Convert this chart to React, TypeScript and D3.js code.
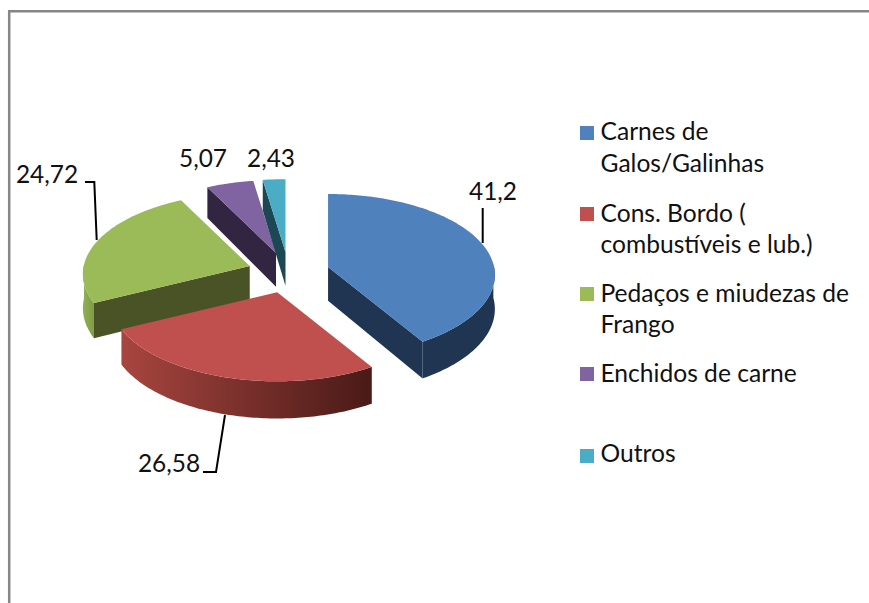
import React from "react";
import * as d3 from "d3";

const categories = ["Carnes de Galos/Galinhas", "Cons. Bordo ( combustíveis e lub.)", "Pedaços e miudezas de Frango", "Enchidos de carne", "Outros"];
const values = [41.2, 26.58, 24.72, 5.07, 2.43];
const valueLabels = ["41,2", "26,58", "24,72", "5,07", "2,43"];
const legendLines = [["Carnes de", "Galos/Galinhas"], ["Cons. Bordo (", "combustíveis e lub.)"], ["Pedaços e miudezas de", "Frango"], ["Enchidos de carne"], ["Outros"]];
const topColors = ["#4F81BD", "#C0504D", "#9BBB59", "#8064A2", "#4BACC6"];
const faceColors = ["#1F3552", "#4A1B18", "#4A5325", "#322541", "#1C4853"];
const wallStops = [["#1F3552", "#1F3552"], ["#A8453F", "#491A17"], ["#8FAE52", "#7F9B48"], ["#322541", "#322541"], ["#1C4853", "#1C4853"]];

const W = 869, H = 603;
const cx = 288.6, cy = 272.5, rx = 166, ry = 81, persp = 0.1, explode = 41, squash = 0.5, depth = 33.8;
const FONT = "Lato, Carlito, Calibri, sans-serif";

const pie = d3.pie<number>().sort(null).value((d) => d)(values);
const deg = d3.scaleLinear().domain([0, 360]).range([0, Math.PI * 2]);
const line = d3.line();

const legendY = [[140, 172], [222, 253], [302, 333], [382], [462]];
const swatchY = [126, 207, 287, 367, 449];
const labelPos = [[493, 200], [169, 472], [47, 183], [203, 167], [271, 167]];
const leaders = [
  [[482.7, 243], [482.7, 208]],
  [[225, 415], [216, 472], [203, 472]],
  [[96.7, 240], [94.3, 182], [85, 182]],
];

function App() {
  const slices = pie.map((p, i) => {
    const mid = (p.startAngle + p.endAngle) / 2;
    const ox = cx + explode * Math.sin(mid);
    const oy = cy - explode * squash * Math.cos(mid);
    const pt = (a: number, r: number, dropped: boolean): [number, number] => {
      const Y = -Math.cos(a) * r;
      const X = Math.sin(a) * r;
      const s = 1 + persp * Y;
      return [ox + X * rx * s, oy + Y * ry * s + (dropped ? depth * s : 0)];
    };
    const steps = d3.range(p.startAngle, p.endAngle, deg(1)).concat([p.endAngle]);
    const top = [pt(0, 0, false), ...steps.map((a) => pt(a, 1, false))];
    const wa = steps.filter((a) => a >= deg(88) && a <= deg(272));
    const wall = wa.length > 1 ? [...wa.map((a) => pt(a, 1, false)), ...wa.slice().reverse().map((a) => pt(a, 1, true))] : null;
    const faces: [number, number][][] = [];
    [[p.startAngle, -1], [p.endAngle, 1]].forEach(([a, sign]) => {
      if (Math.sin(a) * sign > 0.02) faces.push([pt(0, 0, false), pt(a, 1, false), pt(a, 1, true), pt(0, 0, true)]);
    });
    return { i, top, wall, faces, wx: wa.length > 1 ? [pt(wa[0], 1, false)[0], pt(wa[wa.length - 1], 1, false)[0]] : [0, 0] };
  });
  const order = [3, 4, 0, 2, 1];
  return (
    <svg width={W} height={H} style={{ position: "fixed", left: 0, top: 0 }} fontFamily={FONT}>
      <defs>
        {slices.map((s) => (
          <linearGradient key={s.i} id={`wall${s.i}`} gradientUnits="userSpaceOnUse" x1={Math.min(...s.wx)} x2={Math.max(...s.wx)} y1={0} y2={0}>
            <stop offset="0" stopColor={wallStops[s.i][0]} />
            <stop offset="1" stopColor={wallStops[s.i][1]} />
          </linearGradient>
        ))}
      </defs>
      <rect width={W} height={H} fill="#fff" />
      <path d={`M9.2 ${H}V11.2H${W}`} fill="none" stroke="#868686" strokeWidth={2.5} />
      {order.map((k) => {
        const s = slices[k];
        return (
          <g key={k}>
            {s.faces.map((f, j) => (
              <path key={j} d={line(f) + "Z"} fill={faceColors[k]} />
            ))}
            {s.wall && <path d={line(s.wall) + "Z"} fill={`url(#wall${k})`} />}
            <path d={line(s.top) + "Z"} fill={topColors[k]} />
          </g>
        );
      })}
      {leaders.map((l, i) => (
        <path key={i} d={line(l as [number, number][]) as string} fill="none" stroke="#000" strokeWidth={2} />
      ))}
      {valueLabels.map((t, i) => (
        <text key={t} x={labelPos[i][0]} y={labelPos[i][1]} textAnchor="middle" fontSize={24.4} fill="#111">{t}</text>
      ))}
      {categories.map((c, i) => (
        <g key={c}>
          <rect x={580} y={swatchY[i]} width={14} height={14} fill={topColors[i]} />
          {legendLines[i].map((t, j) => (
            <text key={t} x={600.5} y={legendY[i][j]} fontSize={24.6} fill="#111">{t}</text>
          ))}
        </g>
      ))}
    </svg>
  );
}

export default App;
